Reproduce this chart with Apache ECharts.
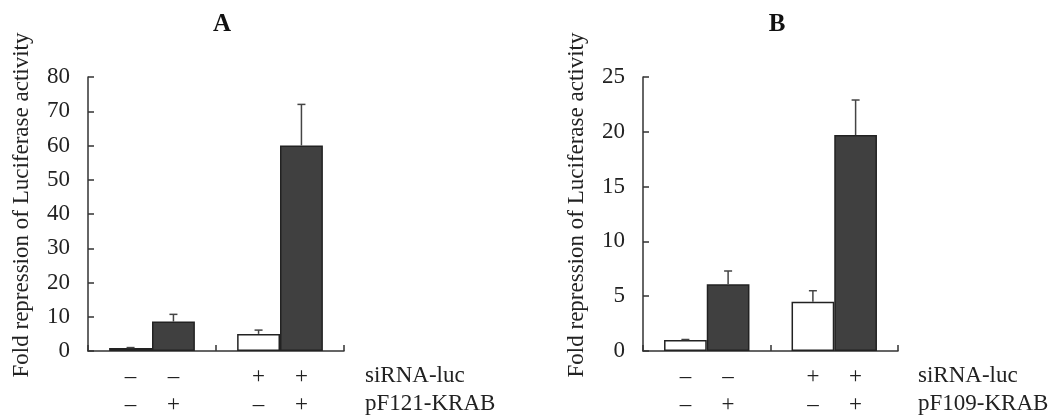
<!DOCTYPE html>
<html>
<head>
<meta charset="utf-8">
<script src="https://cdn.jsdelivr.net/npm/echarts@6/dist/echarts.min.js"></script>
<style>html,body{margin:0;padding:0;background:#fff;}#c{width:1061px;height:420px;}</style>
</head>
<body>
<div id="c"></div>
<script>
// ---- data ----
var groups = ['g1', 'g2'];
var yTitle = 'Fold repression of Luciferase activity';
// Panel A
var aWhite = [0.9, 5.0];
var aWhiteErr = [0.1, 1.1];
var aDark = [8.6, 60.0];
var aDarkErr = [2.1, 12.0];
// Panel B
var bWhite = [1.0, 4.5];
var bWhiteErr = [0.05, 1.0];
var bDark = [6.1, 19.7];
var bDarkErr = [1.2, 3.2];
// sign rows (white bar, dark bar per group)
var siRNAWhite = ['\u2013', '+'];
var siRNADark = ['\u2013', '+'];
var krabWhite = ['\u2013', '\u2013'];
var krabDark = ['+', '+'];
var rowNames = ['siRNA-luc', 'pF121-KRAB', 'pF109-KRAB'];
var panelTitles = ['A', 'B'];
var aYTicks = {min: 0, max: 80, interval: 10};
var bYTicks = {min: 0, max: 25, interval: 5};

var FONT = 'Liberation Serif';
var FS = 23;
var TXT = '#222';
var AX = '#333';
var DARK = '#404040';
var GAP = 0.33;

var chart = echarts.init(document.getElementById('c'));

function signLabel(si, kr) {
  return {
    show: true, position: 'bottom', distance: 12,
    fontFamily: FONT, fontSize: FS, color: TXT, lineHeight: 28,
    formatter: function (p) { return si[p.dataIndex] + '\n' + kr[p.dataIndex]; }
  };
}

function errSeries(gi, vals, errs, side) {
  var data = vals.map(function (v, i) { return [i, v, errs[i]]; });
  return {
    type: 'custom', xAxisIndex: gi, yAxisIndex: gi, z: 5, clip: false,
    data: data,
    renderItem: function (params, api) {
      var i = api.value(0), v = api.value(1), e = api.value(2);
      var c = api.coord([i, v]);
      var top = api.coord([i, v + e]);
      var cw = api.size([1, 0])[0];
      var bw = cw * (1 - GAP) / 2;
      var x = c[0] + side * bw / 2;
      return {
        type: 'group',
        children: [
          {type: 'line', shape: {x1: x, y1: c[1], x2: x, y2: top[1]}, style: {stroke: '#444', lineWidth: 1.5}},
          {type: 'line', shape: {x1: x - 4, y1: top[1], x2: x + 4, y2: top[1]}, style: {stroke: '#444', lineWidth: 1.5}}
        ]
      };
    }
  };
}

function xAx(gi) {
  return {
    type: 'category', gridIndex: gi, data: groups, boundaryGap: true,
    axisLine: {show: true, lineStyle: {color: AX, width: 1.5}},
    axisTick: {show: true, inside: true, length: 6, lineStyle: {color: AX, width: 1.5}},
    axisLabel: {show: false}, splitLine: {show: false}
  };
}
function yAx(gi, t) {
  return {
    type: 'value', gridIndex: gi, min: t.min, max: t.max, interval: t.interval,
    name: yTitle, nameLocation: 'middle', nameGap: 55,
    nameTextStyle: {fontFamily: FONT, fontSize: FS, color: TXT, padding: [0, 0, 0, 18]},
    axisLine: {show: true, lineStyle: {color: AX, width: 1.5}},
    axisTick: {show: true, inside: true, length: 6, lineStyle: {color: AX, width: 1.5}},
    axisLabel: {fontFamily: FONT, fontSize: FS, color: TXT, margin: 18},
    splitLine: {show: false}
  };
}

function barSeries(gi, vals, fill, si, kr) {
  return {
    type: 'bar', xAxisIndex: gi, yAxisIndex: gi, data: vals,
    barGap: '0%', barCategoryGap: (GAP * 100) + '%',
    itemStyle: {color: fill, borderColor: '#222', borderWidth: 1.5},
    label: signLabel(si, kr), silent: true
  };
}

var textStyle = {fontFamily: FONT, fontSize: FS, fill: TXT};

chart.setOption({
  animation: false,
  backgroundColor: '#fff',
  title: [
    {text: panelTitles[0], left: 217, top: 7, textAlign: 'center',
     textStyle: {fontFamily: FONT, fontSize: 25, fontWeight: 'bold', color: '#111'}},
    {text: panelTitles[1], left: 772, top: 7, textAlign: 'center',
     textStyle: {fontFamily: FONT, fontSize: 25, fontWeight: 'bold', color: '#111'}}
  ],
  grid: [
    {left: 88, top: 77, width: 256, height: 274},
    {left: 643, top: 77, width: 255, height: 274}
  ],
  xAxis: [xAx(0), xAx(1)],
  yAxis: [yAx(0, aYTicks), yAx(1, bYTicks)],
  graphic: [
    {type: 'text', left: 365, top: 364, style: Object.assign({text: rowNames[0]}, textStyle)},
    {type: 'text', left: 365, top: 392, style: Object.assign({text: rowNames[1]}, textStyle)},
    {type: 'text', left: 918, top: 364, style: Object.assign({text: rowNames[0]}, textStyle)},
    {type: 'text', left: 918, top: 392, style: Object.assign({text: rowNames[2]}, textStyle)}
  ],
  series: [
    barSeries(0, aWhite, '#fff', siRNAWhite, krabWhite),
    barSeries(0, aDark, DARK, siRNADark, krabDark),
    barSeries(1, bWhite, '#fff', siRNAWhite, krabWhite),
    barSeries(1, bDark, DARK, siRNADark, krabDark),
    errSeries(0, aWhite, aWhiteErr, -1),
    errSeries(0, aDark, aDarkErr, 1),
    errSeries(1, bWhite, bWhiteErr, -1),
    errSeries(1, bDark, bDarkErr, 1)
  ]
});
</script>
</body>
</html>
